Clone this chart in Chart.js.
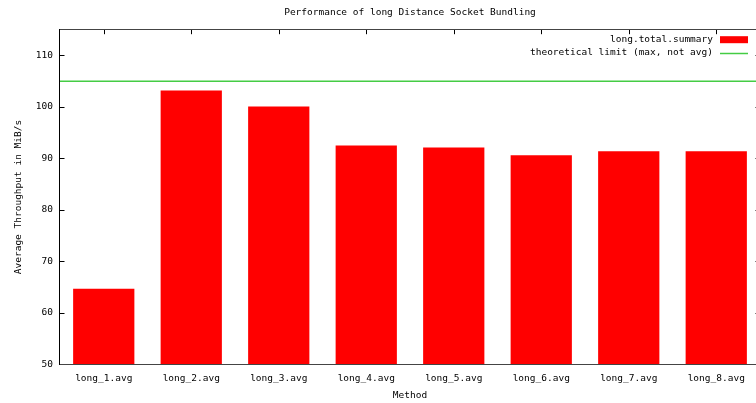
<!DOCTYPE html>
<html>
<head>
<meta charset="utf-8">
<script src="https://cdn.jsdelivr.net/npm/chart.js@4"></script>
<style>
  html, body { margin: 0; padding: 0; overflow: hidden; background: #fff; }
  #wrap { width: 756px; height: 403px; overflow: hidden; }
</style>
</head>
<body>
<div id="wrap"><canvas id="myChart" width="770" height="403"></canvas></div>
<script>
// data
const methods = ["long_1.avg", "long_2.avg", "long_3.avg", "long_4.avg", "long_5.avg", "long_6.avg", "long_7.avg", "long_8.avg"];
const throughput = [64.7, 103.2, 100.1, 92.5, 92.1, 90.6, 91.4, 91.4];
const limitValue = 105;
const limitSpan = [-0.5, 7.5];
const yTicks = [50, 60, 70, 80, 90, 100, 110];

const FONT = { family: "'DejaVu Sans Mono', monospace", size: 9.5 };

// title centred over the plot, not the canvas
const centerTitle = {
  id: "centerTitle",
  afterLayout(chart) {
    const a = chart.chartArea;
    chart.titleBlock.left = a.left;
    chart.titleBlock.right = a.right;
  },
};

// inward tick marks (gnuplot style)
const tickMarks = {
  id: "tickMarks",
  beforeDatasetsDraw(chart) {
    const { ctx, chartArea: a, scales } = chart;
    ctx.save();
    ctx.strokeStyle = "#000";
    ctx.lineWidth = 1;
    ctx.beginPath();
    scales.y.ticks.forEach((t) => {
      const py = Math.round(scales.y.getPixelForValue(t.value)) + 0.5;
      ctx.moveTo(a.left, py); ctx.lineTo(a.left + 4.5, py);
      ctx.moveTo(a.right, py); ctx.lineTo(a.right - 4.5, py);
    });
    methods.forEach((m, i) => {
      const px = Math.round(scales.x.getPixelForValue(i)) + 0.5;
      ctx.moveTo(px, a.top); ctx.lineTo(px, a.top + 4.5);
      ctx.moveTo(px, a.bottom); ctx.lineTo(px, a.bottom - 4.5);
    });
    ctx.stroke();
    ctx.restore();
  },
};

// plot border
const frame = {
  id: "frame",
  afterDatasetsDraw(chart) {
    const { ctx, chartArea: a } = chart;
    ctx.save();
    ctx.lineWidth = 1;
    ctx.strokeStyle = "#444";
    ctx.beginPath();
    ctx.moveTo(a.left, Math.round(a.top) - 0.5); ctx.lineTo(a.right, Math.round(a.top) - 0.5);
    ctx.moveTo(a.left, Math.round(a.bottom) + 0.5); ctx.lineTo(a.right, Math.round(a.bottom) + 0.5);
    ctx.moveTo(a.right + 0.5, a.top); ctx.lineTo(a.right + 0.5, a.bottom);
    ctx.stroke();
    ctx.strokeStyle = "#000";
    ctx.beginPath();
    ctx.moveTo(a.left - 0.5, Math.round(a.top) - 1); ctx.lineTo(a.left - 0.5, Math.round(a.bottom) + 1);
    ctx.stroke();
    ctx.restore();
  },
};

// legend: text right aligned, key sample on the right
const keyBox = {
  id: "keyBox",
  afterDraw(chart) {
    const { ctx, chartArea: a } = chart;
    ctx.save();
    ctx.font = FONT.size + "px " + FONT.family;
    ctx.textAlign = "right";
    ctx.textBaseline = "middle";
    chart.data.datasets.forEach((ds, i) => {
      const y = a.top + 10 + i * 12.8;
      ctx.fillStyle = "#000";
      ctx.fillText(ds.label, a.right - 47, y);
      if (ds.type === "line") {
        ctx.strokeStyle = ds.borderColor;
        ctx.lineWidth = 1.5;
        ctx.beginPath();
        ctx.moveTo(a.right - 40, Math.round(y) + 0.5);
        ctx.lineTo(a.right - 12, Math.round(y) + 0.5);
        ctx.stroke();
      } else {
        ctx.fillStyle = ds.backgroundColor;
        ctx.fillRect(a.right - 40, y - 3.5, 28, 7);
      }
    });
    ctx.restore();
  },
};

Chart.defaults.font.family = FONT.family;
Chart.defaults.font.size = FONT.size;
Chart.defaults.color = "#000";

const config = {
  data: {
    labels: methods,
    datasets: [
      {
        type: "bar",
        label: "long.total.summary",
        data: throughput,
        backgroundColor: "#ff0000",
        borderWidth: 0,
        barPercentage: 0.7,
        categoryPercentage: 1,
        grouped: false,
        xAxisID: "x",
      },
      {
        type: "line",
        label: "theoretical limit (max, not avg)",
        data: limitSpan.map((x) => ({ x: x, y: limitValue })),
        borderColor: "#44cc44",
        borderWidth: 1.5,
        pointRadius: 0,
        xAxisID: "xLine",
      },
    ],
  },
  options: {
    responsive: false,
    animation: false,
    devicePixelRatio: 1,
    layout: { padding: { left: 0, right: 10, top: 0, bottom: 0 } },
    plugins: {
      legend: { display: false },
      tooltip: { enabled: false },
      title: {
        display: true,
        text: "Performance of long Distance Socket Bundling",
        font: { family: FONT.family, size: FONT.size, weight: "normal" },
        color: "#000",
        padding: { top: 6.8, bottom: 11.5 },
      },
    },
    scales: {
      x: {
        type: "category",
        offset: true,
        grid: { display: false, drawTicks: false },
        border: { display: false },
        ticks: { padding: 9, maxRotation: 0, autoSkip: false },
        title: { display: true, text: "Method", padding: { top: 5.6, bottom: 1.3 } },
        afterFit(scale) { scale.height = 38.7; },
      },
      xLine: {
        type: "linear",
        display: false,
        min: limitSpan[0],
        max: limitSpan[1],
      },
      y: {
        min: 50,
        max: 115,
        grid: { display: false, drawTicks: false },
        border: { display: false },
        ticks: { padding: 7 },
        afterBuildTicks(scale) { scale.ticks = yTicks.map((v) => ({ value: v })); },
        title: { display: true, text: "Average Throughput in MiB/s", padding: { top: 13.3, bottom: 0 } },
        afterFit(scale) { scale.width = 60; },
      },
    },
  },
  plugins: [centerTitle, tickMarks, frame, keyBox],
};

const myChart = new Chart(document.getElementById("myChart"), config);
</script>
</body>
</html>
